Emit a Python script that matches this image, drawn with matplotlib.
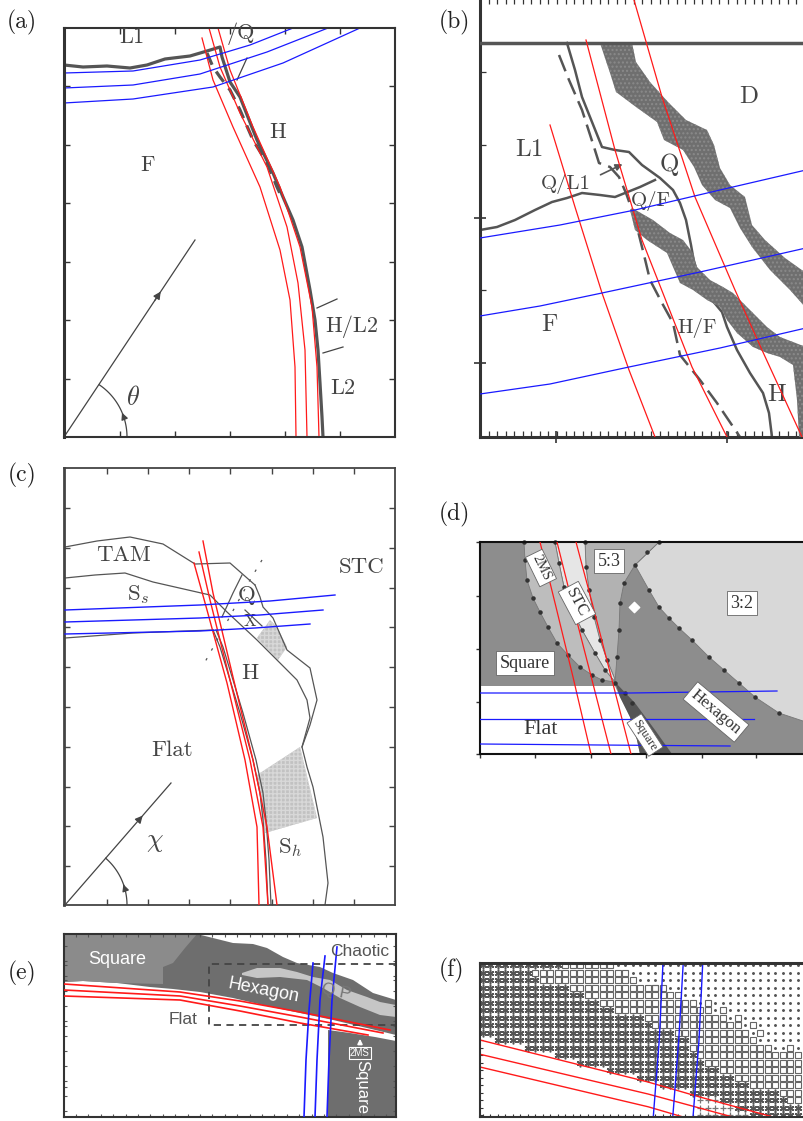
import numpy as np
import matplotlib
matplotlib.use('Agg')
import matplotlib.pyplot as plt
from matplotlib.patches import Polygon

plt.rcParams['mathtext.fontset'] = 'cm'
W, H = 804, 1121
fig = plt.figure(figsize=(W / 100, H / 100), dpi=100)

SERIF = 'cmr10'
TXT = '#444444'
RED = '#ff1a1a'
BLUE = '#1a1aff'
LINE = '#555555'

# ---------------- data (picture coordinates of each panel) ----------------
# Panel (a)
A_BOUNDARY = [(64, 65), (83, 67), (107, 66), (130, 68), (147, 65), (165, 59), (190, 56), (207, 51),
              (220, 47), (222, 57), (230, 82), (240, 97), (257, 140), (273, 173), (283, 197),
              (293, 220), (302, 247), (310, 290), (315, 320), (318, 350), (320, 383), (322, 417), (323, 437)]
A_DASHED = [(207, 53), (213, 67), (220, 77), (230, 90), (240, 110), (253, 140), (267, 163), (277, 187), (283, 200)]
A_RED = [
    [(202, 38), (213, 80), (233, 127), (260, 187), (280, 250), (290, 300), (295, 367), (296, 437)],
    [(209, 28), (220, 67), (240, 113), (267, 167), (287, 227), (298, 283), (305, 350), (307, 437)],
    [(218, 28), (230, 70), (253, 127), (280, 187), (300, 247), (312, 307), (317, 367), (319, 437)],
]
A_BLUE = [
    [(64, 73), (133, 71), (200, 60), (250, 45), (293, 28)],
    [(64, 88), (133, 85), (200, 74), (267, 52), (328, 28)],
    [(64, 103), (133, 99), (213, 87), (283, 63), (360, 28)],
]
A_MARKS = [[(247, 58), (237, 80)], [(317, 308), (337, 299)], [(323, 353), (343, 347)]]
A_LABELS = [('L1', 132, 37), ('/Q', 241, 34), ('H', 278, 132), ('F', 148, 165),
            ('H/L2', 352, 327), ('L2', 343, 388)]
A_ANGLE = dict(origin=(64, 437), tip=(195, 240), radius=63, deg=56)

# Panel (b)
B_TOP = [(480, 43), (806, 43)]
B_BAND1 = [(632, 43), (636, 62), (650, 82), (668, 102), (686, 120), (707, 130), (714, 145), (720, 168),
           (730, 185), (745, 197), (752, 225), (765, 240), (785, 258), (806, 273),
           (806, 308), (790, 290), (770, 270), (752, 247), (740, 228), (730, 208), (715, 200), (702, 185),
           (694, 167), (683, 150), (664, 140), (657, 122), (636, 107), (616, 92), (610, 73), (600, 43)]
B_BAND2 = [(632, 208), (653, 220), (670, 233), (683, 240), (693, 253), (697, 267), (710, 280), (723, 287),
           (733, 293), (743, 303), (753, 313), (767, 327), (780, 337), (793, 342), (806, 347),
           (806, 437), (799, 437), (797, 400), (793, 365), (780, 357), (767, 353), (753, 347), (737, 333),
           (727, 320), (720, 307), (707, 300), (693, 290), (680, 283), (673, 267), (667, 253), (647, 240),
           (635, 230), (630, 210)]
B_LINE_A = [(567, 43), (575, 70), (582, 97), (592, 122), (602, 147), (615, 150), (629, 152), (642, 165),
            (660, 178), (673, 190), (680, 203), (686, 220), (691, 245), (694, 262), (700, 280), (712, 300),
            (722, 312), (727, 327), (737, 350), (750, 373), (763, 393), (769, 413), (772, 437)]
B_LINE_B = [(480, 230), (497, 227), (515, 220), (535, 210), (552, 202), (567, 198), (582, 193), (600, 195),
            (615, 197), (625, 193), (640, 187), (655, 180)]
B_DASHED = [(559, 55), (569, 80), (582, 110), (594, 147), (599, 163), (610, 167), (619, 177), (626, 193),
            (632, 210), (637, 227), (644, 255), (650, 280), (662, 303), (673, 323), (680, 355), (700, 380),
            (717, 403), (740, 437)]
B_RED = [
    [(550, 125), (575, 207), (602, 293), (629, 370), (655, 437)],
    [(586, 40), (615, 150), (642, 240), (692, 367), (727, 437)],
    [(634, 0), (662, 97), (695, 197), (735, 290), (762, 350), (802, 437)],
]
B_BLUE = [
    [(480, 238), (560, 225), (635, 210), (720, 190), (806, 170)],
    [(480, 316), (540, 306), (602, 293), (700, 272), (806, 248)],
    [(480, 394), (550, 384), (629, 367), (720, 348), (806, 328)],
]
B_BIG_LABELS = [('D', 749, 97), ('L1', 529, 150), ('Q', 669, 165), ('F', 549, 325), ('H', 777, 395)]
B_SMALL_LABELS = [('Q/L1', 566, 184), ('Q/F', 651, 201), ('H/F', 697, 328)]

# Panel (c)
C_LINES = [
    [(65, 547), (97, 541), (130, 537), (163, 544), (195, 564), (230, 563), (255, 585)],
    [(255, 585), (260, 597), (263, 607), (273, 618), (287, 650), (310, 668), (317, 700), (310, 725),
     (302, 747), (307, 767), (313, 787), (323, 837), (328, 883), (325, 905)],
    [(65, 578), (95, 575), (125, 573), (153, 582), (210, 595), (227, 612), (257, 640), (277, 660),
     (297, 680), (307, 700), (310, 718), (302, 747)],
    [(65, 638), (133, 633), (213, 630)],
    [(213, 630), (220, 647), (230, 680), (240, 713), (253, 760), (260, 793), (263, 820), (266, 860), (268, 905)],
    [(216, 630), (223, 647), (233, 680), (243, 713), (256, 760), (263, 793), (266, 820), (269, 860), (271, 905)],
    [(242, 575), (233, 593), (222, 617)],
    [(245, 610), (262, 626)],
]
C_DASHED = [(262, 560), (250, 580), (235, 607), (220, 635), (205, 662)]
C_SHADE = [
    [(257, 638), (270, 620), (277, 627), (287, 647), (278, 660)],
    [(257, 775), (300, 747), (317, 818), (265, 833)],
]
C_RED = [
    [(203, 541), (213, 593), (233, 677), (253, 760), (267, 827), (277, 905)],
    [(199, 552), (210, 600), (230, 680), (250, 760), (263, 827), (268, 905)],
    [(194, 563), (207, 610), (227, 683), (245, 760), (257, 827), (259, 905)],
]
C_BLUE = [
    [(65, 610), (200, 605), (270, 601), (335, 595)],
    [(65, 622), (200, 618), (260, 615), (323, 610)],
    [(65, 634), (200, 631), (255, 628), (310, 624)],
]
C_LABELS = [('TAM', 123, 555), ('STC', 362, 567), ('S$_s$', 138, 595), ('Q', 247, 595),
            ('H', 250, 673), ('Flat', 172, 750), ('S$_h$', 290, 848)]
C_ANGLE = dict(origin=(65, 905), tip=(171, 783), radius=62, deg=49)

# Panel (d)
D_FLAT = [(480, 686), (615, 686), (620, 697), (630, 717), (637, 740), (640, 754), (480, 754)]
D_SQUARE_WEDGE = [(615, 682), (635, 703), (655, 730), (672, 754), (640, 754), (637, 740), (630, 717), (620, 697)]
D_R32 = [(635, 565), (649, 590), (659, 607), (669, 618), (679, 628), (692, 640), (709, 657), (724, 670),
         (739, 683), (755, 697), (779, 713), (806, 722), (806, 542), (659, 542)]
D_R53 = [(585, 542), (659, 542), (635, 565), (624, 583), (620, 603), (619, 630), (617, 657), (615, 682),
         (614, 677), (607, 660), (600, 640), (594, 617), (589, 590), (586, 567)]
D_STC = [(555, 542), (585, 542), (586, 567), (589, 590), (594, 617), (600, 640), (607, 660), (614, 677),
         (615, 682), (605, 670), (595, 653), (582, 630), (572, 610), (564, 587), (559, 563)]
D_2MS = [(524, 542), (555, 542), (559, 563), (564, 587), (572, 610), (582, 630), (595, 653), (605, 670),
         (615, 682), (602, 680), (592, 675), (580, 667), (568, 655), (557, 643), (548, 627), (540, 612),
         (533, 598), (527, 580), (525, 560)]
D_DOTS = [(524, 542), (525, 560), (527, 580), (533, 598), (540, 612), (548, 627), (557, 643), (568, 655),
          (580, 667), (592, 675), (602, 680), (615, 683), (559, 563), (564, 587), (572, 610), (582, 630),
          (595, 653), (605, 670), (586, 567), (589, 590), (594, 617), (600, 640), (607, 660), (617, 657),
          (619, 630), (620, 603), (624, 583), (635, 565), (647, 552), (649, 590), (659, 607), (669, 618),
          (679, 628), (692, 640), (709, 657), (724, 670), (739, 683), (755, 697), (779, 713), (555, 542),
          (585, 542), (659, 542), (625, 693), (632, 703)]
D_RED = [
    [(540, 542), (556, 607), (573, 677), (591, 754)],
    [(557, 542), (574, 610), (592, 680), (611, 754)],
    [(576, 542), (594, 610), (612, 680), (631, 754)],
]
D_BLUE = [
    [(480, 693), (630, 693), (777, 691)],
    [(480, 719), (620, 719), (754, 719)],
    [(480, 744), (600, 745), (730, 746)],
]
D_BOXED = [('5:3', 609, 561, 0, 13), ('3:2', 742, 603, 0, 13), ('Square', 525, 663, 0, 13),
           ('2MS', 541, 568, -64, 10), ('STC', 577, 603, -62, 12), ('Hexagon', 716, 712, -40, 12),
           ('Square', 645, 735, -57, 9)]

# Panel (e)
E_GRAY = [(64, 934), (197, 934), (213, 938), (233, 943), (253, 944), (267, 948), (283, 957), (297, 963),
          (320, 967), (333, 973), (353, 980), (373, 993), (396, 1000), (396, 1035), (367, 1028),
          (333, 1020), (300, 1013), (267, 1006), (233, 998), (200, 992), (173, 989), (150, 987),
          (117, 983), (83, 981), (64, 982)]
E_SQUARE_TL = [(64, 934), (197, 934), (185, 948), (173, 963), (163, 967), (163, 984), (117, 983),
               (83, 981), (64, 982)]
E_QP = [(242, 973), (257, 968), (280, 968), (297, 972), (313, 977), (330, 980), (347, 990), (367, 997),
        (380, 1002), (396, 1005), (396, 1017), (380, 1015), (360, 1007), (340, 998), (323, 988),
        (307, 980), (280, 977), (257, 978), (242, 975)]
E_SQUARE_BR = [(328, 1030), (350, 1033), (375, 1037), (396, 1041), (396, 1117), (328, 1117)]
E_DASHBOX = [(396, 964), (209, 964), (209, 1025), (396, 1025)]
E_RED = [
    [(64, 984), (180, 992), (240, 1001), (300, 1012), (390, 1030)],
    [(64, 990), (180, 996), (240, 1006), (300, 1017), (383, 1033)],
    [(64, 996), (180, 1000), (240, 1011), (300, 1023), (368, 1035)],
]
E_BLUE = [
    [(304, 1117), (306, 1060), (309, 1010), (313, 963)],
    [(315, 1117), (317, 1060), (320, 1000), (325, 956)],
    [(327, 1117), (329, 1060), (332, 1000), (337, 947)],
]

# Panel (f): per row (top to bottom) the column where each marker kind ends
F_EMPTY = [0, 0, 0, 0, 0, 0, 0, 0, 0, 0, 2, 6, 10, 13, 17, 21, 24, 28, 29, 29, 29]
F_PLUS = [0, 0, 0, 0, 0, 0, 0, 0, 0, 0, 2, 6, 10, 13, 17, 21, 24, 28, 32, 34, 36]
F_AST = [11, 7, 8, 12, 14, 16, 18, 22, 23, 26, 28, 28, 29, 30, 32, 34, 36, 40, 41, 43, 43]
F_SQ = [18, 20, 21, 25, 27, 29, 31, 33, 35, 36, 37, 39, 43, 43, 43, 43, 43, 43, 43, 43, 43]
F_EXTRA_SQ = [(3, 23), (5, 30), (6, 32), (7, 34), (8, 36), (9, 37), (11, 41)]
F_NCOLS = 43
F_RED = [
    [(-0.4, 10.0), (22.0, 15.6), (28.9, 17.6), (38.7, 20.27)],
    [(-0.4, 11.9), (22.0, 17.2), (33.3, 20.27)],
    [(-0.4, 13.6), (22.0, 18.9), (26.7, 20.27)],
]
F_BLUE = [
    [(24.0, -0.3), (23.5, 10), (22.7, 20.3)],
    [(26.7, -0.3), (26.1, 10), (25.3, 20.3)],
    [(29.3, -0.3), (28.8, 10), (28.0, 20.3)],
]

PANEL_LABELS = [('(a)', 22, 22), ('(b)', 454, 22), ('(c)', 22, 475), ('(d)', 454, 514),
                ('(e)', 22, 973), ('(f)', 452, 970)]


# ---------------- helpers ----------------
def add_panel(l, t, r, b):
    ax = fig.add_axes([l / W, 1 - b / H, (r - l) / W, (b - t) / H])
    ax.set_xlim(l, r)
    ax.set_ylim(b, t)
    ax.set_xticks([])
    ax.set_yticks([])
    return ax


def line(ax, pts, **kw):
    p = np.asarray(pts, float)
    return ax.plot(p[:, 0], p[:, 1], **kw)


def poly(ax, pts, **kw):
    ax.add_patch(Polygon(np.asarray(pts, float), closed=True, **kw))


def spines(ax, color='#333333', lw=1.5, hide=()):
    for k, s in ax.spines.items():
        s.set_color(color)
        s.set_linewidth(lw)
        if k in hide:
            s.set_visible(False)


def angle_marker(ax, origin, tip, radius, deg, color='#444444'):
    ox, oy = origin
    line(ax, [origin, tip], color=color, lw=0.9)
    mx, my = ox + 0.75 * (tip[0] - ox), oy + 0.75 * (tip[1] - oy)
    ax.annotate('', xy=(mx, my), xytext=(ox + 0.68 * (tip[0] - ox), oy + 0.68 * (tip[1] - oy)),
                arrowprops=dict(arrowstyle='-|>', color=color, lw=0.9, mutation_scale=11))
    t = np.radians(np.linspace(0, deg, 60))
    ax.plot(ox + radius * np.cos(t), oy - radius * np.sin(t), color=color, lw=0.9)
    t1, t2 = np.radians(deg * 0.33), np.radians(deg * 0.45)
    ax.annotate('', xy=(ox + radius * np.cos(t2), oy - radius * np.sin(t2)),
                xytext=(ox + radius * np.cos(t1), oy - radius * np.sin(t1)),
                arrowprops=dict(arrowstyle='-|>', color=color, lw=0.9, mutation_scale=10))


def labels(ax, items, size=16, family=SERIF, color=TXT):
    for s, x, y in items:
        ax.text(x, y, s, ha='center', va='center', fontsize=size, family=family, color=color)


# ---------------- panel (a) ----------------
ax = add_panel(64, 28, 395, 437)
spines(ax)
ax.spines['left'].set_linewidth(2.2)
ax.set_yticks([86, 145, 203, 262, 320, 379])
ax.set_xticks([120, 175, 230, 285, 340])
ax.tick_params(direction='in', length=4, width=1, color='#333333', left=True, right=True, top=True,
               bottom=True, labelleft=False, labelbottom=False)
line(ax, A_BOUNDARY, color=LINE, lw=2.3, solid_joinstyle='round')
line(ax, A_DASHED, color=LINE, lw=2.3, dashes=(4, 2.5))
for m in A_MARKS:
    line(ax, m, color='#444444', lw=0.9)
for c in A_RED:
    line(ax, c, color=RED, lw=0.9)
for c in A_BLUE:
    line(ax, c, color=BLUE, lw=0.9)
angle_marker(ax, **A_ANGLE)
ax.text(133, 398, r'$\theta$', fontsize=19, color=TXT, ha='center', va='center')
labels(ax, A_LABELS, size=16)

# ---------------- panel (b) ----------------
ax = add_panel(480, -2, 806, 437)
spines(ax, hide=('right',))
ax.spines['left'].set_linewidth(2.2)
ax.spines['bottom'].set_linewidth(2.2)
ax.set_xticks([556, 727])
ax.set_xticks(np.arange(480, 806, 8.55), minor=True)
ax.set_yticks([218, 363])
ax.set_yticks([72, 145, 290], minor=True)
ax.tick_params(which='major', direction='inout', length=8, width=1.2, color='#333333',
               top=False, labelleft=False, labelbottom=False)
ax.tick_params(which='minor', direction='in', length=4, width=0.9, color='#333333',
               top=True, bottom=True, left=True)
poly(ax, B_BAND1, facecolor='#6f6f6f', edgecolor='#8a8a8a', hatch='....', lw=0, zorder=3)
poly(ax, B_BAND2, facecolor='#6f6f6f', edgecolor='#8a8a8a', hatch='....', lw=0, zorder=3)
line(ax, B_TOP, color=LINE, lw=2.5, zorder=4)
line(ax, B_LINE_A, color=LINE, lw=1.8, zorder=2)
line(ax, B_LINE_B, color=LINE, lw=1.8, zorder=2)
line(ax, B_DASHED, color=LINE, lw=1.8, dashes=(7, 3), zorder=2)
ax.annotate('', xy=(625, 163), xytext=(598, 176),
            arrowprops=dict(arrowstyle='-|>', color=LINE, lw=1.2, mutation_scale=10))
for c in B_RED:
    line(ax, c, color=RED, lw=0.9, zorder=5)
for c in B_BLUE:
    line(ax, c, color=BLUE, lw=0.9, zorder=5)
labels(ax, B_BIG_LABELS, size=18)
labels(ax, B_SMALL_LABELS, size=15)

# ---------------- panel (c) ----------------
ax = add_panel(64, 468, 395, 905)
spines(ax, color='#444444', lw=1.3)
ax.spines['left'].set_linewidth(2.0)
ax.set_yticks([508, 548, 588, 627, 667, 707, 747, 787, 826, 866])
ax.set_xticks([107, 148, 189, 230, 272, 313, 354])
ax.tick_params(direction='in', length=4, width=1, color='#444444', left=True, right=True, top=True,
               bottom=True, labelleft=False, labelbottom=False)
for s in C_SHADE:
    poly(ax, s, facecolor='#c2c2c2', edgecolor='#d8d8d8', hatch='++++', lw=0, zorder=1)
for c in C_LINES:
    line(ax, c, color='#555555', lw=0.9, zorder=2)
line(ax, C_DASHED, color='#555555', lw=0.9, dashes=(2, 7), zorder=2)
for c in C_RED:
    line(ax, c, color=RED, lw=1.0, zorder=4)
for c in C_BLUE:
    line(ax, c, color=BLUE, lw=1.0, zorder=4)
angle_marker(ax, **C_ANGLE)
ax.text(155, 841, r'$\chi$', fontsize=19, color=TXT, ha='center', va='center')
ax.text(250, 621, 'X', fontsize=12, color=TXT, ha='center', va='center', family=SERIF)
labels(ax, C_LABELS, size=16.5)

# ---------------- panel (d) ----------------
ax = add_panel(480, 542, 806, 754)
spines(ax, color='#111111', lw=1.5, hide=('right',))
ax.set_facecolor('#8d8d8d')
poly(ax, D_R32, facecolor='#d8d8d8', lw=0.6, edgecolor='#777777', zorder=1)
poly(ax, D_R53, facecolor='#b2b2b2', lw=0.6, edgecolor='#777777', zorder=1)
poly(ax, D_STC, facecolor='#e6e6e6', lw=0.6, edgecolor='#777777', zorder=1)
poly(ax, D_2MS, facecolor='#bdbdbd', lw=0.6, edgecolor='#777777', zorder=1)
poly(ax, D_FLAT, facecolor='white', lw=0, zorder=1)
poly(ax, D_SQUARE_WEDGE, facecolor='#555555', lw=0, zorder=1)
dp = np.asarray(D_DOTS, float)
ax.scatter(dp[:, 0], dp[:, 1], s=5, color='#333333', zorder=2, clip_on=False)
ax.scatter([634], [607], s=28, marker='D', color='white', zorder=2)
for c in D_RED:
    line(ax, c, color=RED, lw=0.9, zorder=3)
for c in D_BLUE:
    line(ax, c, color=BLUE, lw=0.9, zorder=3)
for s, x, y, rot, fs in D_BOXED:
    ax.text(x, y, s, rotation=rot, ha='center', va='center', fontsize=fs, family='Liberation Serif',
            color='#333333', rotation_mode='anchor', zorder=4,
            bbox=dict(boxstyle='square,pad=0.2', facecolor='white', edgecolor='#666666', lw=0.6))
ax.text(541, 729, 'Flat', ha='center', va='center', fontsize=16, family='Liberation Serif',
        color='#333333', zorder=4)
ax.set_yticks([542, 596, 649, 702, 754])
ax.set_xticks([480, 535, 591, 646, 702, 756])
ax.tick_params(direction='out', length=3, width=1, color='#333333', labelleft=False, labelbottom=False)

# ---------------- panel (e) ----------------
ax = add_panel(64, 934, 396, 1117)
spines(ax, color='#333333', lw=1.5)
poly(ax, E_GRAY, facecolor='#6e6e6e', lw=0, zorder=1)
poly(ax, E_SQUARE_TL, facecolor='#8b8b8b', lw=0, zorder=1)
poly(ax, E_QP, facecolor='#c6c6c6', lw=0, zorder=1)
poly(ax, E_SQUARE_BR, facecolor='#6e6e6e', lw=0, zorder=1)
line(ax, E_DASHBOX, color='#444444', lw=1.3, dashes=(4, 3), zorder=2)
for c in E_RED:
    line(ax, c, color=RED, lw=1.2, zorder=3)
for c in E_BLUE:
    line(ax, c, color=BLUE, lw=1.2, zorder=3)
SANS = 'Liberation Sans'
ax.text(117, 960, 'Square', color='white', fontsize=13, family=SANS, ha='center', va='center', zorder=4)
ax.text(264, 991, 'Hexagon', color='white', fontsize=13, family=SANS, ha='center', va='center',
        rotation=-11, zorder=4)
ax.text(336, 992, 'Q P', color='#777777', fontsize=12.5, family=SANS, ha='center', va='center',
        rotation=-12, zorder=4)
ax.text(360, 951, 'Chaotic', color='#555555', fontsize=12.5, family=SANS, ha='center', va='center', zorder=4)
ax.text(183, 1020, 'Flat', color='#555555', fontsize=12.5, family=SANS, ha='center', va='center', zorder=4)
ax.text(360, 1053, '2MS', color='white', fontsize=7, family=SANS, ha='center', va='center', zorder=4,
        bbox=dict(boxstyle='square,pad=0.15', facecolor='#6e6e6e', edgecolor='white', lw=0.8))
ax.annotate('', xy=(360, 1036), xytext=(360, 1047),
            arrowprops=dict(arrowstyle='-|>', color='white', lw=1.2, mutation_scale=7), zorder=4)
ax.text(362, 1087, 'Square', color='white', fontsize=12, family=SANS, ha='center', va='center',
        rotation=-90, zorder=4)
ax.set_xticks(np.arange(76, 396, 12.4))
ax.set_yticks([965, 980, 1026, 1087])
ax.set_yticks(np.arange(946, 1117, 15), minor=True)
ax.tick_params(which='both', direction='in', length=2.5, width=0.8, color='#555555', left=True,
               right=True, top=True, bottom=True, labelleft=False, labelbottom=False)

# ---------------- panel (f) ----------------
fl, ft, fr, fb = 480, 963, 806, 1117
ax = fig.add_axes([fl / W, 1 - fb / H, (fr - fl) / W, (fb - ft) / H])
ax.set_xlim((fl - 483) / 7.5, (fr - 483) / 7.5)
ax.set_ylim((fb - 965) / 7.5, (ft - 965) / 7.5)
spines(ax, color='#333333', lw=1.5, hide=('right',))
ax.spines['top'].set_linewidth(2.2)
ast, sq, dot, plus = [], [], [], []
for r in range(len(F_EMPTY)):
    for c in range(F_NCOLS):
        if c < F_EMPTY[r]:
            continue
        if c < F_PLUS[r]:
            plus.append((c, r))
        elif c < F_AST[r]:
            ast.append((c, r))
        elif c < F_SQ[r]:
            sq.append((c, r))
        else:
            dot.append((c, r))
extra = set(F_EXTRA_SQ)
dot = [(c, r) for (c, r) in dot if (r, c) not in extra]
sq += [(c, r) for (r, c) in F_EXTRA_SQ]
for pts, kw in [(ast, dict(marker=(6, 2, 0), markersize=5.5, mew=1.1, color='#555555')),
                (sq, dict(marker='s', markersize=4.4, mew=0.8, mfc='none', mec='#666666')),
                (dot, dict(marker='.', markersize=2.2, color='#555555')),
                (plus, dict(marker='+', markersize=5, mew=0.9, color='#777777'))]:
    p = np.asarray(pts, float)
    ax.plot(p[:, 0], p[:, 1], ls='none', **kw)
for c in F_RED:
    line(ax, c, color=RED, lw=1.0)
for c in F_BLUE:
    line(ax, c, color=BLUE, lw=1.0)
ax.set_yticks(np.arange(0, 21))
ax.set_xticks(np.arange(0, 43))
ax.tick_params(direction='in', length=2.5, width=0.8, color='#333333', labelleft=False, labelbottom=False)

# ---------------- panel letters ----------------
for s, x, y in PANEL_LABELS:
    fig.text(x / W, 1 - y / H, s, fontsize=17, family=SERIF, color='#222222', ha='center', va='center')

fig.savefig('out.png', dpi=100)
